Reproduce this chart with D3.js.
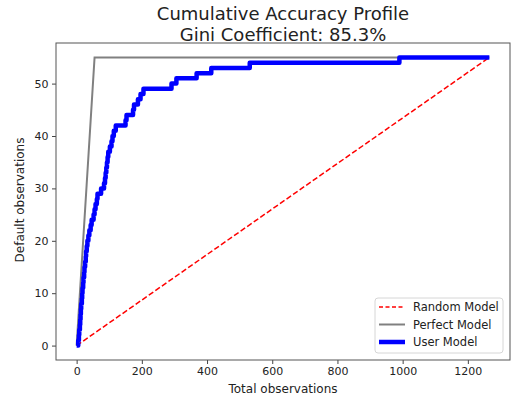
<!DOCTYPE html>
<html>
<head>
<meta charset="utf-8">
<script src="https://cdn.jsdelivr.net/npm/d3@7"></script>
<style>
  body { margin: 0; background: #fff; }
  svg { font-family: "DejaVu Sans", sans-serif; }
</style>
</head>
<body>
<svg id="chart"></svg>
<script>
const width = 513;
const height = 399;

// data
const totalObs = 1266;
const totalDefaults = 55;
const randomX = [0, totalObs];
const randomY = [0, totalDefaults];
const perfectX = [0, totalDefaults, totalObs];
const perfectY = [0, totalDefaults, totalDefaults];
// x where the cumulative default count steps up to the matching y
const userX = [0, 5, 7, 8, 10, 11, 12, 13, 14, 16, 17, 18, 20, 21, 23, 24, 26, 28, 29, 31, 33,
  36, 39, 43, 46, 52, 55, 58, 62, 64, 75, 84, 87, 89, 91, 93, 95, 97, 102, 107, 110, 114, 120,
  150, 153, 173, 176, 188, 196, 205, 291, 306, 368, 413, 531, 990, 1266];
const userY = [0, 1, 2, 3, 4, 5, 6, 7, 8, 9, 10, 11, 12, 13, 14, 15, 16, 17, 18, 19, 20,
  21, 22, 23, 24, 25, 26, 27, 28, 29, 30, 31, 32, 33, 34, 35, 36, 37, 38, 39, 40, 41, 42,
  43, 44, 45, 46, 47, 48, 49, 50, 51, 52, 53, 54, 55, 55];
const xTicks = [0, 200, 400, 600, 800, 1000, 1200];
const yTicks = [0, 10, 20, 30, 40, 50];

const svg = d3.select("#chart").attr("width", width).attr("height", height);

const plotLeft = 56, plotRight = 510, plotTop = 43, plotBottom = 360;

const x = d3.scaleLinear().domain([-63.3, 1329.3]).range([plotLeft, plotRight]);
const y = d3.scaleLinear().domain([-2.75, 57.75]).range([plotBottom, plotTop]);

// title
svg.append("text").attr("x", 283).attr("y", 19.5).attr("text-anchor", "middle")
  .attr("font-size", 18).attr("fill", "#222").text("Cumulative Accuracy Profile");
svg.append("text").attr("x", 283).attr("y", 41).attr("text-anchor", "middle")
  .attr("font-size", 18).attr("fill", "#222").text("Gini Coefficient: 85.3%");

// axes
const xAxis = svg.append("g").attr("transform", `translate(0,${plotBottom})`)
  .call(d3.axisBottom(x).tickValues(xTicks).tickFormat(d3.format("d")).tickSize(4).tickPadding(3));
const yAxis = svg.append("g").attr("transform", `translate(${plotLeft},0)`)
  .call(d3.axisLeft(y).tickValues(yTicks).tickFormat(d3.format("d")).tickSize(4).tickPadding(3.5));
[xAxis, yAxis].forEach(a => {
  a.select(".domain").remove();
  a.selectAll("line").attr("stroke", "#444");
  a.selectAll("text").attr("font-size", 11).attr("fill", "#222")
    .attr("font-family", "DejaVu Sans, sans-serif");
});

svg.append("text").attr("x", 283).attr("y", 393).attr("text-anchor", "middle")
  .attr("font-size", 12).attr("fill", "#222").text("Total observations");
svg.append("text").attr("transform", "translate(24,200) rotate(-90)")
  .attr("text-anchor", "middle").attr("font-size", 12).attr("fill", "#222")
  .text("Default observations");

// lines
const line = d3.line().x(d => x(d[0])).y(d => y(d[1]));
const stepLine = d3.line().x(d => x(d[0])).y(d => y(d[1])).curve(d3.curveStepAfter);

svg.append("path").datum(d3.zip(randomX, randomY)).attr("d", line)
  .attr("fill", "none").attr("stroke", "red").attr("stroke-width", 1.5)
  .attr("stroke-dasharray", "5.5,2.5");
svg.append("path").datum(d3.zip(perfectX, perfectY)).attr("d", line)
  .attr("fill", "none").attr("stroke", "grey").attr("stroke-width", 2);
svg.append("path").datum(d3.zip(userX, userY)).attr("d", stepLine)
  .attr("fill", "none").attr("stroke", "blue").attr("stroke-width", 4.5)
  .attr("stroke-linejoin", "round");

// frame
svg.append("rect").attr("x", plotLeft).attr("y", plotTop)
  .attr("width", plotRight - plotLeft).attr("height", plotBottom - plotTop)
  .attr("fill", "none").attr("stroke", "#555").attr("stroke-width", 1);

// legend
const legendItems = [
  { label: "Random Model", color: "red", width: 1.5, dash: "4,2.5" },
  { label: "Perfect Model", color: "grey", width: 2, dash: null },
  { label: "User Model", color: "blue", width: 4.5, dash: null }
];
const legend = svg.append("g").attr("transform", "translate(375,298)");
legend.append("rect").attr("width", 128).attr("height", 55).attr("rx", 3)
  .attr("fill", "white").attr("fill-opacity", 0.8)
  .attr("stroke", "#d6d6d6").attr("stroke-width", 1);
legendItems.forEach((d, i) => {
  const cy = 9 + i * 17.5;
  legend.append("line").attr("x1", 4).attr("x2", 30).attr("y1", cy).attr("y2", cy)
    .attr("stroke", d.color).attr("stroke-width", d.width)
    .attr("stroke-dasharray", d.dash);
  legend.append("text").attr("x", 38).attr("y", cy + 4).attr("font-size", 11.5)
    .attr("fill", "#222").text(d.label);
});
</script>
</body>
</html>
